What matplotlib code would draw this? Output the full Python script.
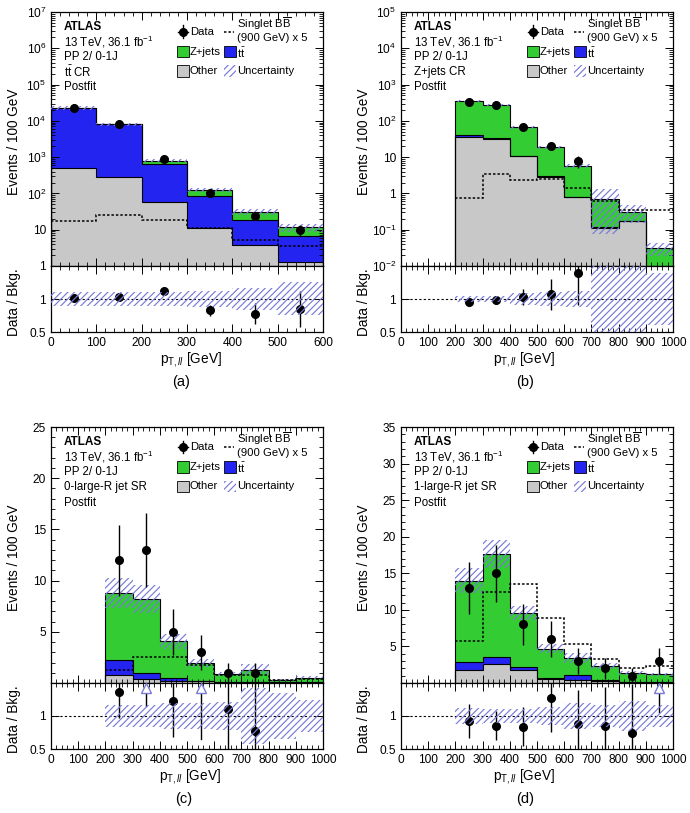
import numpy as np
import matplotlib
matplotlib.use('Agg')
import matplotlib.pyplot as plt
from matplotlib.ticker import MultipleLocator, FixedLocator, FuncFormatter, LogLocator, NullFormatter
from matplotlib.patches import Rectangle

plt.rcParams['font.family'] = ['Liberation Sans', 'DejaVu Sans']
plt.rcParams['mathtext.fontset'] = 'custom'
plt.rcParams['mathtext.rm'] = 'Liberation Sans'
plt.rcParams['mathtext.it'] = 'Liberation Sans:italic'
plt.rcParams['mathtext.bf'] = 'Liberation Sans:bold'
plt.rcParams['hatch.linewidth'] = 0.85

C_Z = '#33cc33'
C_TT = '#2424f0'
C_OTH = '#c8c8c8'
C_HATCH = '#7a7ad8'

# ---------------- data ----------------
# (a) ttbar CR
a_edges = [0, 100, 200, 300, 400, 500, 600]
a_other = [501, 291, 59, 11.1, 3.8, 1.28]
a_ttbar = [22100, 7740, 599, 71.7, 14.2, 5.3]
a_zjets = [100, 80, 136, 40, 13, 5.2]
a_signal = [17.2, 26, 18, 11.5, 5.3, 3.5]
a_data = [22900, 8300, 890, 102, 24, 10]
a_unc = [0.10, 0.10, 0.10, 0.12, 0.17, 0.25]

# (b) Z+jets CR
b_edges = [200, 300, 400, 500, 600, 700, 800, 900, 1000]
b_other = [35, 31.6, 10.5, 2.91, 0.78, 0.114, 0.17, 0.004]
b_ttbar = [6.5, 2.8, 0.4, 0.1, 0.03, 0.005, 0.002, 0.0005]
b_zjets = [316, 238, 55, 15.7, 4.9, 0.58, 0.144, 0.026]
b_signal = [0.75, 3.4, 2.32, 2.47, 1.37, 0.63, 0.34, 0.34]
b_data = [340, 270, 68, 20, 8, 0, 0, 0]
b_unc = [0.05, 0.05, 0.09, 0.11, 0.125, 0.89, 0.53, 0.40]

# (c) 0-large-R jet SR
c_edges = [200, 300, 400, 500, 600, 700, 800, 900, 1000]
c_other = [0.75, 0.43, 0.2, 0.15, 0.05, 0.05, 0.05, 0.05]
c_ttbar = [1.53, 0.58, 0.29, 0.06, 0.02, 0.02, 0.01, 0.01]
c_zjets = [6.49, 7.19, 3.57, 1.74, 0.83, 1.23, 0.22, 0.46]
c_signal = [1.24, 2.53, 2.53, 1.79, 0.82, 0.75, 0.25, 0.42]
c_data = [12, 13, 5, 3, 1, 1, 0, 0]
c_unc = [0.17, 0.17, 0.19, 0.19, 0.21, 0.42, 0.35, 0.24]

# (d) 1-large-R jet SR
d_edges = [200, 300, 400, 500, 600, 700, 800, 900, 1000]
d_other = [1.82, 2.64, 1.82, 0.6, 0.46, 0.3, 0.1, 0.1]
d_ttbar = [1.05, 0.96, 0.36, 0.08, 0.68, 0.07, 0.03, 0.03]
d_zjets = [11.13, 14.0, 7.37, 4.01, 2.27, 2.0, 1.22, 1.06]
d_signal = [5.8, 12.5, 13.6, 8.9, 5.37, 3.33, 2.05, 2.28]
d_data = [13, 15, 8, 6, 3, 2, 1, 3]
d_unc = [0.12, 0.11, 0.10, 0.13, 0.20, 0.17, 0.23, 0.17]

region_labels = [r'$\mathrm{t}\bar{\mathrm{t}}$ CR', 'Z+jets CR', '0-large-R jet SR', '1-large-R jet SR']

fig = plt.figure(figsize=(6.9, 8.13), dpi=100)
W, H = 690.0, 813.0
LFS = 8.1


def fpos(x0, x1, y0, y1):
    return [x0 / W, 1 - y1 / H, (x1 - x0) / W, (y1 - y0) / H]


def logfmt(v, pos):
    if v <= 0:
        return ''
    e = int(round(np.log10(v)))
    if e == 0:
        return '1'
    if e == 1:
        return '10'
    return r'$10^{%d}$' % e


def step_xy(edges, vals):
    x = np.repeat(edges, 2)[1:-1]
    y = np.repeat(vals, 2)
    return x, y


def style_ticks(ax):
    ax.tick_params(which='both', direction='in', top=True, right=True, labelsize=8.6)
    ax.tick_params(which='major', length=5.5, width=0.7)
    ax.tick_params(which='minor', length=2.8, width=0.6)
    for s in ax.spines.values():
        s.set_linewidth(0.9)


def legend(ax):
    r1, r2, r3 = 0.922, 0.844, 0.768
    bw, bh = 0.044, 0.046
    x1, x2 = 0.462, 0.637
    tr = ax.transAxes
    ax.plot([x1 + bw / 2], [r1], 'o', color='k', ms=5.5, transform=tr, clip_on=False, zorder=10)
    ax.plot([x1 + 0.004, x1 + bw - 0.004], [r1, r1], color='k', lw=1, transform=tr, zorder=10)
    ax.plot([x1 + bw / 2, x1 + bw / 2], [r1 - 0.025, r1 + 0.025], color='k', lw=1, transform=tr, zorder=10)
    ax.text(x1 + bw + 0.004, r1, 'Data', transform=tr, va='center', fontsize=LFS)
    ax.add_patch(Rectangle((x1, r2 - bh / 2), bw, bh, facecolor=C_Z, edgecolor='k', lw=0.6, transform=tr))
    ax.text(x1 + bw + 0.004, r2, 'Z+jets', transform=tr, va='center', fontsize=LFS)
    ax.add_patch(Rectangle((x1, r3 - bh / 2), bw, bh, facecolor=C_OTH, edgecolor='k', lw=0.6, transform=tr))
    ax.text(x1 + bw + 0.004, r3, 'Other', transform=tr, va='center', fontsize=LFS)
    ax.plot([x2, x2 + 0.036], [r1, r1], color='k', lw=1.1, ls=(0, (1.6, 1.3)), transform=tr)
    ax.text(x2 + bw + 0.004, 0.956, r'Singlet B$\overline{\mathrm{B}}$', transform=tr, va='center', fontsize=LFS)
    ax.text(x2 + bw + 0.004, 0.898, '(900 GeV) x 5', transform=tr, va='center', fontsize=LFS)
    ax.add_patch(Rectangle((x2, r2 - bh / 2), bw, bh, facecolor=C_TT, edgecolor='k', lw=0.6, transform=tr))
    ax.text(x2 + bw + 0.004, r2 - 0.004, r'$\mathrm{t}\bar{\mathrm{t}}$', transform=tr, va='center', fontsize=LFS)
    ax.add_patch(Rectangle((x2, r3 - bh / 2), bw, bh, facecolor='none', edgecolor=C_HATCH, lw=0,
                           hatch='/////', transform=tr))
    ax.text(x2 + bw + 0.004, r3, 'Uncertainty', transform=tr, va='center', fontsize=LFS)


def panel(xpix, ymain, yratio, edges, other, tt, zj, sig, data, unc, logy, ylim, xmax,
          region, letter, xlab_x, letter_x):
    edges = np.asarray(edges, float)
    other = np.asarray(other, float)
    tt = np.asarray(tt, float)
    zj = np.asarray(zj, float)
    sig = np.asarray(sig, float)
    data = np.asarray(data, float)
    unc = np.asarray(unc, float)
    centers = 0.5 * (edges[1:] + edges[:-1])
    ax = fig.add_axes(fpos(xpix[0], xpix[1], ymain[0], ymain[1]))
    floor = ylim[0] * 1e-3 if logy else 0.0
    c1 = other
    c2 = other + tt
    c3 = c2 + zj
    ax.stairs(c1, edges, baseline=floor, fill=True, color=C_OTH, lw=0, zorder=1)
    ax.stairs(c2, edges, baseline=c1, fill=True, color=C_TT, lw=0, zorder=1)
    ax.stairs(c3, edges, baseline=c2, fill=True, color=C_Z, lw=0, zorder=1)
    for c in (c1, c2, c3):
        ax.stairs(c, edges, baseline=floor, color='k', lw=0.8, zorder=2)
    lo = np.maximum(c3 * (1 - unc), 0.0)
    if logy:
        lo = np.maximum(lo, ylim[0] * 1e-2)
    hi = c3 * (1 + unc)
    xs, ylo = step_xy(edges, lo)
    _, yhi = step_xy(edges, hi)
    ax.fill_between(xs, ylo, yhi, facecolor='none', edgecolor=C_HATCH, hatch='/////', linewidth=0, zorder=3)
    ax.stairs(sig, edges, baseline=None, color='k', lw=1.1, ls=(0, (1.6, 1.3)), zorder=4)
    m = data > 0
    ax.errorbar(centers[m], data[m], yerr=np.sqrt(data[m]), fmt='o', color='k', ms=5.5,
                elinewidth=1, capsize=0, zorder=6)
    ax.set_xlim(0, xmax)
    if logy:
        ax.set_yscale('log')
        e0, e1 = int(round(np.log10(ylim[0]))), int(round(np.log10(ylim[1])))
        ax.yaxis.set_major_locator(FixedLocator([10.0 ** e for e in range(e0, e1 + 1)]))
        ax.yaxis.set_minor_locator(LogLocator(base=10, subs=np.arange(2, 10), numticks=20))
        ax.yaxis.set_major_formatter(FuncFormatter(logfmt))
        ax.yaxis.set_minor_formatter(NullFormatter())
    else:
        ax.yaxis.set_major_locator(FixedLocator(np.arange(5, ylim[1] + 0.1, 5)))
        ax.yaxis.set_minor_locator(MultipleLocator(1))
        ax.yaxis.set_major_formatter(FuncFormatter(lambda v, p: '%d' % v))
    ax.set_ylim(*ylim)
    ax.xaxis.set_major_locator(MultipleLocator(100))
    ax.xaxis.set_minor_locator(MultipleLocator(20))
    style_ticks(ax)
    ax.tick_params(labelbottom=False)
    ax.set_ylabel('Events / 100 GeV', fontsize=9.8)
    ax.yaxis.set_label_coords(-0.11, 0.49)

    tr = ax.transAxes
    ax.text(0.048, 0.942, 'ATLAS', transform=tr, fontsize=8.5, fontweight='bold', va='center')
    lines = ['13 TeV, 36.1 fb$^{-1}$', 'PP 2/ 0-1J', region, 'Postfit']
    for i, t in enumerate(lines):
        ax.text(0.048, 0.884 - 0.06 * i, t, transform=tr, fontsize=8.3, va='center')
    legend(ax)

    # ratio
    ar = fig.add_axes(fpos(xpix[0], xpix[1], yratio[0], yratio[1]))
    ar.set_xlim(0, xmax)
    ar.set_ylim(0.5, 1.5)
    ar.axhline(1, color='k', lw=0.8, ls=(0, (2, 2)), zorder=1)
    tot = c3
    r = data / tot
    re = np.sqrt(data) / tot
    for i in range(len(centers)):
        if data[i] <= 0:
            continue
        if r[i] > 1.5:
            ar.plot([centers[i], centers[i]], [r[i] - re[i], 1.385], color='k', lw=1, zorder=2)
            ar.plot([centers[i]], [1.42], marker='^', ms=6.5, mfc='white', mec=C_HATCH, mew=1.0, zorder=5)
        else:
            ar.errorbar([centers[i]], [r[i]], yerr=[re[i]], fmt='o', color='k', ms=5.5,
                        elinewidth=1, capsize=0, zorder=2)
    _, ylo = step_xy(edges, 1 - unc)
    _, yhi = step_xy(edges, 1 + unc)
    ar.fill_between(xs, ylo, yhi, facecolor='none', edgecolor=C_HATCH, hatch='/////', linewidth=0, zorder=3)
    ar.yaxis.set_major_locator(FixedLocator([0.5, 1.0]))
    ar.yaxis.set_major_formatter(FuncFormatter(lambda v, p: '0.5' if v < 0.75 else '1'))
    ar.xaxis.set_major_locator(MultipleLocator(100))
    ar.xaxis.set_minor_locator(MultipleLocator(20))
    style_ticks(ar)
    ar.set_ylabel('Data / Bkg.', fontsize=9.8)
    ar.yaxis.set_label_coords(-0.11, 0.45)
    ar.set_xlabel(r'p$_{\mathrm{T},\mathit{ll}}$ [GeV]', fontsize=9.8)
    ar.xaxis.set_label_coords(xlab_x, -0.28)
    ar.text(letter_x, -0.75, letter, transform=ar.transAxes, ha='center', va='center', fontsize=10.5)


panel((51, 323), (12, 266), (266, 332), a_edges, a_other, a_ttbar, a_zjets, a_signal, a_data, a_unc,
      True, (1, 1e7), 600, region_labels[0], '(a)', 0.515, 0.48)
panel((401, 673), (12, 266), (266, 332), b_edges, b_other, b_ttbar, b_zjets, b_signal, b_data, b_unc,
      True, (1e-2, 1e5), 1000, region_labels[1], '(b)', 0.452, 0.456)
panel((51, 323), (427, 683), (683, 749), c_edges, c_other, c_ttbar, c_zjets, c_signal, c_data, c_unc,
      False, (0, 25), 1000, region_labels[2], '(c)', 0.511, 0.489)
panel((401, 673), (427, 683), (683, 749), d_edges, d_other, d_ttbar, d_zjets, d_signal, d_data, d_unc,
      False, (0, 35), 1000, region_labels[3], '(d)', 0.454, 0.456)

fig.savefig('out.png', dpi=100)
